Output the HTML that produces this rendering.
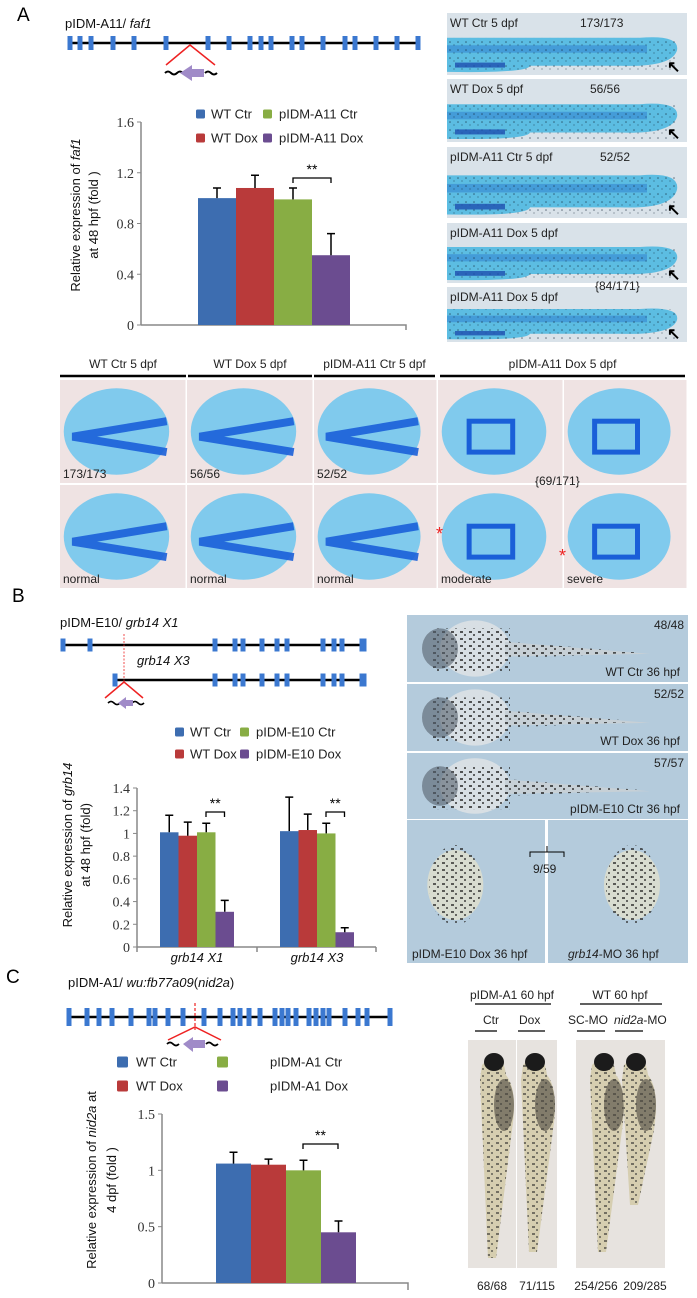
<!DOCTYPE html>
<html><head><meta charset="utf-8"><style>
html,body{margin:0;padding:0;background:#fff;}
svg{display:block;font-family:"Liberation Sans",sans-serif;}
.tk{font-family:"Liberation Serif",serif;font-size:14px;fill:#333;}
.lg{font-size:13px;fill:#222;}
.ti{font-size:13px;fill:#111;}
.pl{font-size:12px;fill:#222;}
</style></head><body>
<svg id="fig" width="697" height="1298" viewBox="0 0 697 1298">
<defs>
<pattern id="spk" width="9" height="7" patternUnits="userSpaceOnUse">
<rect x="1" y="1" width="3" height="2" fill="#222"/><rect x="5" y="4" width="2" height="2" fill="#333"/>
</pattern>
<pattern id="dots" width="8" height="8" patternUnits="userSpaceOnUse">
<circle cx="2" cy="2" r="0.8" fill="#123"/><circle cx="6" cy="5" r="0.6" fill="#123"/>
</pattern>
</defs>

<text x="17" y="21" font-size="19">A</text>
<text x="12" y="602" font-size="19">B</text>
<text x="6" y="983" font-size="19">C</text>

<g>
<text x="65" y="28" class="ti">pIDM-A11/ <tspan font-style="italic">faf1</tspan></text>
<line x1="68" y1="43" x2="418" y2="43" stroke="#000" stroke-width="2.5"/>
<g id="exA" fill="#3b78d0"></g>
<polyline points="166,65 190,45 215,65" fill="none" stroke="#e22" stroke-width="1.5"/>
<path d="M165,73 q3,-3 6,0 t6,0 t6,0 M205,73 q3,-3 6,0 t6,0" stroke="#000" stroke-width="2" fill="none"/>
<polygon points="180,73 192,65 192,69 204,69 204,77 192,77 192,81" fill="#a08bc8"/>
</g>

<g>
<text x="60" y="627" class="ti">pIDM-E10/ <tspan font-style="italic">grb14 X1</tspan></text>
<line x1="63" y1="645" x2="366" y2="645" stroke="#000" stroke-width="2.5"/>
<text x="137" y="665" class="ti" font-style="italic">grb14 X3</text>
<line x1="115" y1="680" x2="366" y2="680" stroke="#000" stroke-width="2.5"/>
<g id="exB" fill="#3b78d0"></g>
<line x1="124" y1="634" x2="124" y2="682" stroke="#e22" stroke-width="0.8" stroke-dasharray="2,1.5"/>
<polyline points="105,698 124,682 143,698" fill="none" stroke="#e22" stroke-width="1.5"/>
<path d="M108,703 q3,-3 6,0 t6,0 M132,703 q3,-3 6,0 t6,0" stroke="#000" stroke-width="1.6" fill="none"/>
<polygon points="118,703 126,697 126,700 133,700 133,706 126,706 126,709" fill="#a08bc8"/>
</g>

<g>
<text x="68" y="987" class="ti">pIDM-A1/ <tspan font-style="italic">wu:fb77a09</tspan>(<tspan font-style="italic">nid2a</tspan>)</text>
<line x1="69" y1="1017" x2="390" y2="1017" stroke="#000" stroke-width="2.5"/>
<g id="exC" fill="#3b78d0"></g>
<line x1="195" y1="1003" x2="195" y2="1030" stroke="#e22" stroke-width="1.2" stroke-dasharray="3,2"/>
<polyline points="168,1040 195,1027 221,1040" fill="none" stroke="#e22" stroke-width="1.5"/>
<path d="M167,1044 q3,-3 6,0 t6,0 M206,1044 q3,-3 6,0 t6,0" stroke="#000" stroke-width="1.8" fill="none"/>
<polygon points="183,1044 193,1037 193,1040 205,1040 205,1048 193,1048 193,1052" fill="#a08bc8"/>
</g>

<g id="chartA"></g>
<g id="chartB"></g>
<g id="chartC"></g>

<g id="photosA"></g>
<g id="gridA"></g>
<g id="photosB"></g>
<g id="photosC"></g>
</svg>

<script>
const colors = ["#3d6db0","#b93a3a","#88ad44","#6b4c90"];
const seriesA = ["WT Ctr","WT Dox","pIDM-A11 Ctr","pIDM-A11 Dox"];
const valuesA = [1.00,1.08,0.99,0.55];
const errorsA = [0.08,0.10,0.09,0.17];
const ticksA = [0,0.4,0.8,1.2,1.6];
const tickLabelsA = ["0","0.4","0.8","1.2","1.6"];

const seriesB = ["WT Ctr","WT Dox","pIDM-E10 Ctr","pIDM-E10 Dox"];
const categoriesB = ["grb14 X1","grb14 X3"];
const valuesBX1 = [1.01,0.98,1.01,0.31];
const errorsBX1 = [0.15,0.12,0.08,0.10];
const valuesBX3 = [1.02,1.03,1.00,0.13];
const errorsBX3 = [0.30,0.14,0.09,0.04];
const ticksB = [0,0.2,0.4,0.6,0.8,1,1.2,1.4];
const tickLabelsB = ["0","0.2","0.4","0.6","0.8","1","1.2","1.4"];

const seriesC = ["WT Ctr","WT Dox","pIDM-A1 Ctr","pIDM-A1 Dox"];
const valuesC = [1.06,1.05,1.00,0.45];
const errorsC = [0.10,0.05,0.09,0.10];
const ticksC = [0,0.5,1,1.5];
const tickLabelsC = ["0","0.5","1","1.5"];

const exonsA = [70,80,91,113,134,166,208,229,250,261,271,292,302,323,345,355,376,397,418];
const exonsB1 = [63,90,215,235,243,262,277,287,323,334,342,363];
const exonsB2 = [115,215,235,243,262,277,287,323,334,342,363];
const exonsC = [69,87,99,112,131,149,155,168,183,204,220,233,240,249,260,275,282,288,296,309,316,323,329,345,358,367,390];

const NS="http://www.w3.org/2000/svg";
function mk(tag,attrs,parent){const e=document.createElementNS(NS,tag);for(const k in attrs)e.setAttribute(k,attrs[k]);parent.appendChild(e);return e;}
function tx(str,attrs,parent){const e=mk("text",attrs,parent);e.textContent=str;return e;}

function exons(list,y,h,gid){const g=document.getElementById(gid);list.forEach((x,i)=>{
 const w=(i===list.length-1&&gid==="exB")?7:5;
 const r=mk("rect",{x:x-w/2,y:y-h/2,width:w,height:h},g);
 
 });}
exons(exonsA,43,14,"exA");
exons(exonsB1,645,13,"exB");
exons(exonsB2,680,13,"exB");
exons(exonsC,1017,18,"exC");

function axisY(g,x0,yOf,ticks,labels){
 mk("line",{x1:x0,y1:yOf(ticks[ticks.length-1]),x2:x0,y2:yOf(0),stroke:"#888","stroke-width":1.5},g);
 ticks.forEach((t,i)=>{
  mk("line",{x1:x0-4,y1:yOf(t),x2:x0,y2:yOf(t),stroke:"#888","stroke-width":1},g);
  const l=tx(labels[i],{x:x0-7,y:yOf(t)+5,"text-anchor":"end",class:"tk"},g);
  
  
 });
}
function bar(g,x,w,v,e,c,yOf){
 const r=mk("rect",{x:x,y:yOf(v),width:w,height:yOf(0)-yOf(v),fill:c},g);
 
 
 const cx=x+w/2;
 const eb=mk("path",{d:`M${cx},${yOf(v)} V${yOf(v+e)} M${cx-4},${yOf(v+e)} H${cx+4}`,stroke:"#000","stroke-width":1.5,fill:"none"},g);
 
 
}
function bracket(g,x1,x2,y){
 mk("path",{d:`M${x1},${y+5} V${y} H${x2} V${y+5}`,stroke:"#000","stroke-width":1.3,fill:"none"},g);
 const s=tx("**",{x:(x1+x2)/2,y:y-4,"text-anchor":"middle","font-size":"14"},g);
 
 
}
function legend(g,names,x1,x2,tx1,tx2,y1,y2,size){
 const pos=[[x1,tx1,y1],[x1,tx1,y2],[x2,tx2,y1],[x2,tx2,y2]];
 [0,1,2,3].forEach(i=>{
  const p=pos[i];
  const it=mk("g",{},g);
  
  
  mk("rect",{x:p[0],y:p[2]-size/2,width:size,height:size,rx:1.5,fill:colors[i]},it);
  tx(names[i],{x:p[1],y:p[2]+4.5,class:"lg"},it);
 });
}
function yTitle(g,cx,cy,line1,ital,line2,gap){
 const t=mk("text",{transform:`translate(${cx},${cy}) rotate(-90)`,"text-anchor":"middle",class:"ti"},g);
 
 
 const a=mk("tspan",{x:0,y:0},t);a.textContent=line1;
 const b=mk("tspan",{"font-style":"italic"},t);b.textContent=ital[0];
 if(ital[1]){const c=mk("tspan",{},t);c.textContent=ital[1];}
 const d=mk("tspan",{x:0,dy:gap},t);d.textContent=line2;
}

(function(){
 const g=document.getElementById("chartA");
 const yOf=v=>325-v/1.6*203;
 legend(g,seriesA,196,263,211,279,114,138,9);
 axisY(g,141,yOf,ticksA,tickLabelsA);
 mk("path",{d:"M141,325 H406 V330",stroke:"#888","stroke-width":1.5,fill:"none"},g);
 valuesA.forEach((v,i)=>bar(g,198+i*38,38,v,errorsA[i],colors[i],yOf));
 bracket(g,198+2*38+19,198+3*38+19,178);
 yTitle(g,80,215,"Relative expression of ",["faf1"],"at 48 hpf (fold )",18);
})();

(function(){
 const g=document.getElementById("chartB");
 const yOf=v=>947-v/1.4*159;
 legend(g,seriesB,175,240,190,256,732,754,9);
 axisY(g,137,yOf,ticksB,tickLabelsB);
 mk("path",{d:"M137,947 H376 M257,947 V952 M376,947 V952 M137,947 V952",stroke:"#888","stroke-width":1.5,fill:"none"},g);
 const starts=[160,280];
 [valuesBX1,valuesBX3].forEach((vals,gi)=>{
  const errs=gi===0?errorsBX1:errorsBX3;
  vals.forEach((v,i)=>bar(g,starts[gi]+i*18.5,18.5,v,errs[i],colors[i],yOf));
  bracket(g,starts[gi]+2*18.5+9,starts[gi]+3*18.5+9,812);
  const l=tx(categoriesB[gi],{x:starts[gi]+37,y:962,"text-anchor":"middle",class:"ti","font-style":"italic"},g);
  
  
 });
 yTitle(g,72,845,"Relative expression of ",["grb14"],"at 48 hpf (fold)",18);
})();

(function(){
 const g=document.getElementById("chartC");
 const yOf=v=>1283-v/1.5*169;
 legend(g,seriesC,117,217,136,270,1062,1086,11);
 axisY(g,162,yOf,ticksC,tickLabelsC);
 mk("path",{d:"M162,1283 H408 V1290",stroke:"#888","stroke-width":1.5,fill:"none"},g);
 valuesC.forEach((v,i)=>bar(g,216+i*35,35,v,errorsC[i],colors[i],yOf));
 bracket(g,216+2*35+17,216+3*35+17,1144);
 yTitle(g,96,1180,"Relative expression of ",["nid2a"," at"],"4 dpf (fold )",20);
})();

(function(){
 const g=document.getElementById("photosA");
 const rows=[[13,75,"WT  Ctr 5 dpf","173/173"],[79,142,"WT  Dox 5 dpf","56/56"],[147,218,"pIDM-A11 Ctr 5 dpf","52/52"],[223,283,"pIDM-A11 Dox 5 dpf",""],[287,342,"pIDM-A11 Dox 5 dpf",""]];
 rows.forEach((r,i)=>{
  const p=mk("g",{},g);
  
  
  const y0=r[0],h=r[1]-r[0];
  mk("rect",{x:447,y:y0,width:240,height:h,fill:"#d9e2e9"},p);
  mk("path",{d:`M447,${y0+h*0.4} H640 Q680,${y0+h*0.35} 677,${y0+h*0.6} Q672,${y0+h*0.88} 620,${y0+h*0.85} H530 Q528,${y0+h*0.97} 447,${y0+h*0.95} Z`,fill:"#5cbde2"},p);
  mk("rect",{x:447,y:y0+h*0.52,width:200,height:h*0.12,fill:"#3a8fd4",opacity:0.7},p);
  mk("rect",{x:447,y:y0+h*0.4,width:230,height:h*0.55,fill:"url(#dots)",opacity:0.6},p);
  mk("rect",{x:455,y:y0+h*0.8,width:50,height:h*0.08,fill:"#1e4fb0",opacity:0.8},p);
  tx(r[2],{x:450,y:y0+14,class:"pl"},p);
  if(r[3])tx(r[3],{x:i===0?580:i===1?590:600,y:y0+14,class:"pl"},p);
  tx("↖",{x:667,y:y0+h-3,"font-size":"16","font-weight":"bold"},p);
 });
 const c=tx("{84/171}",{x:595,y:290,class:"pl"},g);
 
 
})();

(function(){
 const g=document.getElementById("gridA");
 const heads=[[60,186,"WT  Ctr 5 dpf"],[188,312,"WT Dox  5 dpf"],[314,435,"pIDM-A11 Ctr 5 dpf"],[440,685,"pIDM-A11 Dox 5 dpf"]];
 heads.forEach(h=>{
  const t=tx(h[2],{x:(h[0]+h[1])/2,y:368,"text-anchor":"middle",class:"pl"},g);
  
  
  mk("line",{x1:h[0],y1:376,x2:h[1],y2:376,stroke:"#000","stroke-width":2.5},g);
 });
 const cols=[60,187,314,438,564,688];
 const top=["173/173","56/56","52/52","",""];
 const bot=["normal","normal","normal","moderate","severe"];
 for(let i=0;i<5;i++){
  const x=cols[i],w=cols[i+1]-cols[i]-1.5;
  [[380,103],[485,103]].forEach((r,ri)=>{
   const p=mk("g",{},g);
   
   
   mk("rect",{x:x,y:r[0],width:w,height:r[1],fill:"#efe3e3"},p);
   mk("ellipse",{cx:x+w*0.45,cy:r[0]+r[1]*0.5,rx:w*0.42,ry:r[1]*0.42,fill:"#6cc6ee",opacity:0.85},p);
   if(i<3) mk("path",{d:`M${x+w*0.85},${r[0]+r[1]*0.4} L${x+w*0.1},${r[0]+r[1]*0.55} L${x+w*0.85},${r[0]+r[1]*0.7}`,stroke:"#1a5fd8","stroke-width":8,fill:"none",opacity:0.9},p);
   else mk("rect",{x:x+w*0.25,y:r[0]+r[1]*0.4,width:w*0.35,height:r[1]*0.3,fill:"none",stroke:"#1a5fd8","stroke-width":5},p);
   const lab=ri===0?top[i]:bot[i];
   if(lab)tx(lab,{x:x+3,y:r[0]+r[1]-5,class:"pl","font-size":"13"},p);
  });
 }
 tx("{69/171}",{x:535,y:485,class:"pl"},g);
 tx("*",{x:436,y:540,fill:"#e22","font-size":"18"},g);
 tx("*",{x:559,y:562,fill:"#e22","font-size":"18"},g);
})();

(function(){
 const g=document.getElementById("photosB");
 const rows=[[615,67,"48/48","WT  Ctr 36 hpf"],[684,67,"52/52","WT  Dox 36 hpf"],[753,66,"57/57","pIDM-E10 Ctr 36 hpf"]];
 rows.forEach(r=>{
  const p=mk("g",{},g);
  
  
  mk("rect",{x:407,y:r[0],width:281,height:r[1],fill:"#b4cbdc"},p);
  mk("ellipse",{cx:475,cy:r[0]+r[1]/2,rx:35,ry:r[1]*0.42,fill:"#d8dfe4"},p);
  mk("path",{d:`M505,${r[0]+r[1]*0.4} L650,${r[0]+r[1]*0.58} L505,${r[0]+r[1]*0.62} Z`,fill:"#c7d0d6"},p);
  mk("path",{d:`M430,${r[0]+r[1]*0.2} H510 V${r[0]+r[1]*0.4} L640,${r[0]+r[1]*0.56} L510,${r[0]+r[1]*0.65} V${r[0]+r[1]*0.85} H430 Z`,fill:"url(#spk)",opacity:0.75},p);
  mk("ellipse",{cx:440,cy:r[0]+r[1]/2,rx:18,ry:r[1]*0.3,fill:"#55606d",opacity:0.6},p);
  tx(r[2],{x:684,y:r[0]+14,"text-anchor":"end",class:"pl"},p);
  tx(r[3],{x:680,y:r[0]+r[1]-6,"text-anchor":"end",class:"pl","font-size":"11"},p);
 });
 [[407,138,"pIDM-E10 Dox 36 hpf",""],[548,140,"","-MO 36 hpf"]].forEach((c,i)=>{
  const p=mk("g",{},g);
  
  
  mk("rect",{x:c[0],y:820,width:c[1],height:143,fill:"#b4cbdc"},p);
  const cx=c[0]+c[1]*(i?0.6:0.35);
  mk("ellipse",{cx:cx,cy:885,rx:28,ry:35,fill:"#d8dcd0"},p);
  mk("ellipse",{cx:cx,cy:885,rx:26,ry:40,fill:"url(#spk)",opacity:0.7},p);
  const t=tx(c[2],{x:c[0]+5,y:958,class:"pl","font-size":"11"},p);
  if(i){const a=mk("tspan",{"font-style":"italic"},t);a.textContent="grb14";const b=mk("tspan",{},t);b.textContent=c[3];t.setAttribute("x",c[0]+20);}
 });
 tx("9/59",{x:533,y:873,class:"pl"},g);
 mk("path",{d:"M530,857 V852 H564 V857 M547,852 V846",stroke:"#000",fill:"none"},g);
})();

(function(){
 const g=document.getElementById("photosC");
 const h1=tx("pIDM-A1 60 hpf",{x:512,y:999,"text-anchor":"middle",class:"pl","font-size":"13"},g);
 
 
 const h2=tx("WT 60 hpf",{x:620,y:999,"text-anchor":"middle",class:"pl","font-size":"13"},g);
 
 
 mk("path",{d:"M475,1004 H551 M580,1004 H662",stroke:"#000","stroke-width":1.3},g);
 [["Ctr",483],["Dox",519]].forEach(l=>{tx(l[0],{x:l[1],y:1024,class:"pl","font-size":"13"},g);});
 tx("SC-MO",{x:568,y:1024,class:"pl","font-size":"12"},g);
 const n=tx("",{x:614,y:1024,class:"pl","font-size":"12"},g);
 const n1=mk("tspan",{"font-style":"italic"},n);n1.textContent="nid2a";const n2=mk("tspan",{},n);n2.textContent="-MO";
 mk("path",{d:"M475,1031 H497 M518,1031 H545 M577,1031 H605 M615,1031 H643",stroke:"#000","stroke-width":1.2},g);
 [[468,48],[517,40],[576,89]].forEach(r=>{
  const rr=mk("rect",{x:r[0],y:1040,width:r[1],height:228,fill:"#e7e3df"},g);
  
  
 });
 [[490,1268],[531,1262],[600,1262],[632,1215]].forEach(f=>{
  const p=mk("g",{},g);
  
  
  const d=`M${f[0]-8},1065 Q${f[0]+12},1045 ${f[0]+16},1075 Q${f[0]+28},1090 ${f[0]+22},1130 L${f[0]+6},${f[1]-10} L${f[0]-2},${f[1]-10} L${f[0]-10},1080 Z`;
  mk("path",{d:d,fill:"#d6ceb0"},p);
  mk("path",{d:d,fill:"url(#spk)",opacity:0.55},p);
  mk("ellipse",{cx:f[0]+4,cy:1062,rx:10,ry:9,fill:"#1b1b1b"},p);
  mk("ellipse",{cx:f[0]+14,cy:1105,rx:10,ry:26,fill:"#4a463e",opacity:0.6},p);
 });
 ["68/68","71/115","254/256","209/285"].forEach((s,i)=>{
  const t=tx(s,{x:[492,537,596,645][i],y:1290,"text-anchor":"middle",class:"pl","font-size":"13"},g);
  
  
 });
})();
</script>
</body></html>
